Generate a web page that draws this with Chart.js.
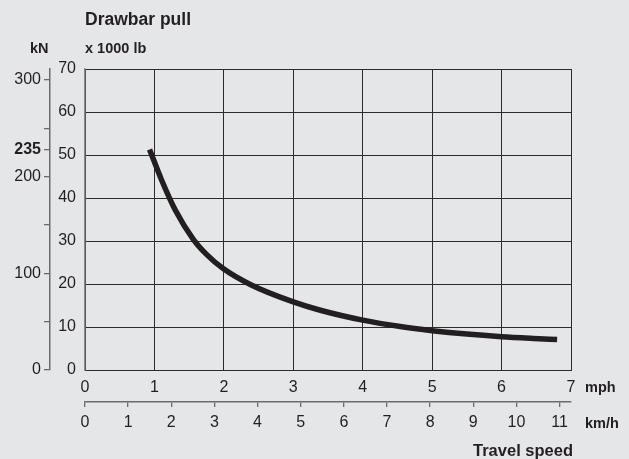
<!DOCTYPE html>
<html>
<head>
<meta charset="utf-8">
<script src="https://cdn.jsdelivr.net/npm/chart.js@4.4.0/dist/chart.umd.min.js"></script>
<style>
  html, body { margin: 0; padding: 0; background: #e5e6e8; }
  #wrap { position: relative; width: 629px; height: 459px; font-family: "Liberation Sans", Arial, sans-serif; color: #231f20; }
  #wrap canvas { position: absolute; left: 0; top: 0; }
  .lbl { position: absolute; font-weight: bold; line-height: 1; white-space: nowrap; }
</style>
</head>
<body>
<div id="wrap">
  <canvas id="pullChart" width="629" height="459"></canvas>
  <div class="lbl" style="left:85px; top:11px; font-size:17.5px;">Drawbar pull</div>
  <div class="lbl" style="left:30px; top:41px; font-size:14.5px;">kN</div>
  <div class="lbl" style="left:85px; top:41px; font-size:14.5px;">x 1000 lb</div>
  <div class="lbl" style="left:585px; top:380px; font-size:14.5px;">mph</div>
  <div class="lbl" style="left:585px; top:416px; font-size:14.5px;">km/h</div>
  <div class="lbl" style="right:56px; top:442px; font-size:16.5px;">Travel speed</div>
</div>
<script>
// curve: travel speed (mph) vs drawbar pull (x 1000 lb)
const speedMph = [0.93, 1.1, 1.3, 1.56, 1.75, 1.99, 2.38, 2.99, 3.39, 4.0, 4.54, 5.0, 5.5, 6.0, 6.46, 6.8];
const pullKlb  = [51.3, 44.3, 37.2, 30.4, 26.9, 23.6, 19.9, 15.9, 13.9, 11.6, 10.1, 9.15, 8.35, 7.75, 7.35, 7.1];

const mphMax = 7;
const klbMax = 70;
const kmhTicks = [0, 1, 2, 3, 4, 5, 6, 7, 8, 9, 10, 11];
const kNTicks = [0, 50, 100, 150, 200, 250, 300];
const kNLabelled = [0, 100, 200, 300];
const kNRated = 235; // marked at the height where the curve starts

const KN_PER_KLB = 4.448;
const KMH_PER_MPH = 1.609344;

const ink = "#231f20";
const gridInk = "#2b2b2b";
const axisGrey = "#6b6b6b";
const fontFamily = "'Liberation Sans', Arial, sans-serif";

const points = speedMph.map((s, i) => ({ x: s, y: pullKlb[i] }));
const ratedPos = pullKlb[0] * KN_PER_KLB;

const ctx = document.getElementById("pullChart").getContext("2d");

new Chart(ctx, {
  type: "line",
  data: {
    datasets: [{
      data: points,
      borderColor: ink,
      borderWidth: 5.5,
      borderCapStyle: "butt",
      pointRadius: 0,
      cubicInterpolationMode: "monotone",
      fill: false,
      xAxisID: "x",
      yAxisID: "y"
    }]
  },
  options: {
    responsive: false,
    animation: false,
    layout: { padding: { left: 0, right: 58, top: 69, bottom: 21 } },
    plugins: {
      legend: { display: false },
      tooltip: { enabled: false }
    },
    scales: {
      x: {
        type: "linear",
        position: "bottom",
        weight: 0,
        min: 0,
        max: mphMax,
        ticks: { stepSize: 1, color: ink, padding: 8, font: { family: fontFamily, size: 16 } },
        grid: { color: gridInk, lineWidth: 1, drawTicks: false },
        border: { display: true, color: gridInk, width: 1 },
        afterFit: s => { s.height = 32; }
      },
      kmh: {
        type: "linear",
        position: "bottom",
        weight: 1,
        min: 0,
        max: mphMax * KMH_PER_MPH,
        afterBuildTicks: s => { s.ticks = kmhTicks.map(v => ({ value: v })); },
        ticks: { autoSkip: false, color: ink, padding: 6, font: { family: fontFamily, size: 16 } },
        grid: { drawOnChartArea: false, color: axisGrey, lineWidth: 1.3, tickLength: 5 },
        border: { display: true, color: axisGrey, width: 1.5 },
        afterFit: s => { s.height = 36; }
      },
      y: {
        type: "linear",
        position: "left",
        weight: 0,
        min: 0,
        max: klbMax,
        ticks: { stepSize: 10, color: ink, padding: 9, font: { family: fontFamily, size: 16 } },
        grid: { color: gridInk, lineWidth: 1, drawTicks: false },
        border: { display: true, color: "#8a8a8a", width: 1.5 },
        afterFit: s => { s.width = 35; }
      },
      kN: {
        type: "linear",
        position: "left",
        weight: 1,
        min: 0,
        max: klbMax * KN_PER_KLB,
        afterBuildTicks: s => {
          const vals = kNTicks.concat([ratedPos]).sort((a, b) => a - b);
          s.ticks = vals.map(v => ({ value: v }));
        },
        ticks: {
          autoSkip: false,
          color: ink,
          padding: 3,
          callback: v => v === ratedPos ? String(kNRated) : (kNLabelled.includes(v) ? String(v) : ""),
          font: c => ({ family: fontFamily, size: 16, weight: c.tick && c.tick.value === ratedPos ? "bold" : "normal" })
        },
        grid: { drawOnChartArea: false, color: axisGrey, lineWidth: 1.3, tickLength: 6 },
        border: { display: true, color: axisGrey, width: 1.5 },
        afterFit: s => { s.width = 50; }
      }
    }
  }
});
</script>
</body>
</html>
